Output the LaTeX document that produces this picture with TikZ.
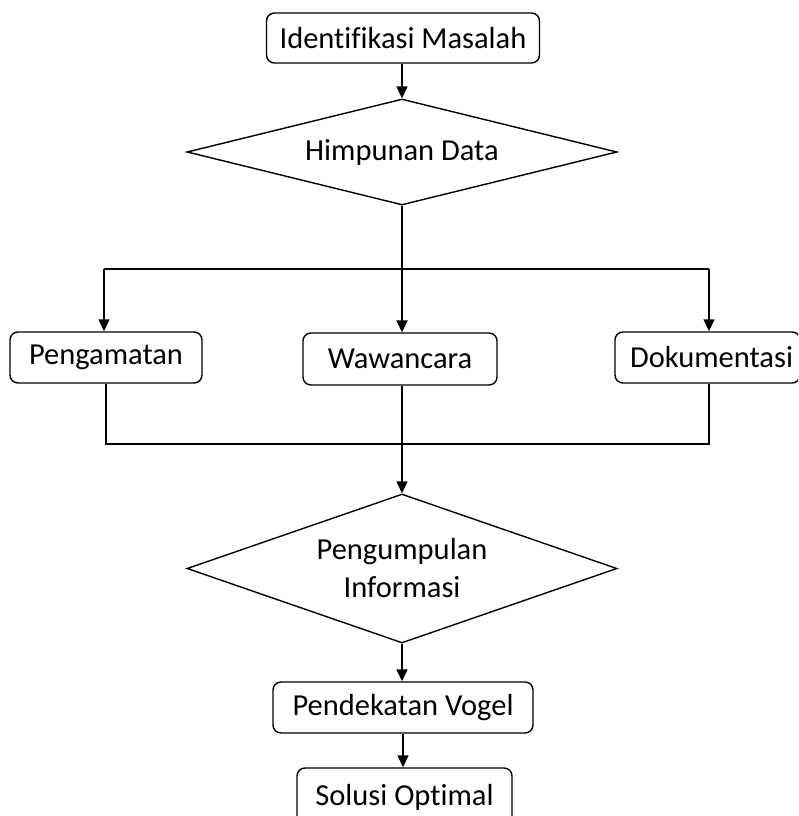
\documentclass[tikz,border=0pt]{standalone}
\usepackage{fontspec}
\setmainfont[Ligatures={NoCommon}]{Carlito}
\usetikzlibrary{shapes.geometric,arrows.meta}
\tikzset{
  box/.style={draw, line width=1.4pt, rounded corners=8pt, inner sep=0pt, align=center},
  dia/.style={draw, diamond, line width=1.4pt, inner sep=0pt, align=center},
  conn/.style={line width=1.4pt},
  arr/.style={line width=1.4pt, -{Triangle[length=12pt,width=11pt]}},
}
\begin{document}
\begin{tikzpicture}[x=1pt,y=-1pt,font=\fontsize{30.5}{38}\selectfont]
\clip (0,0) rectangle (798,816);
\fill[white] (0,0) rectangle (798,816);
\node[box, minimum width=273pt, minimum height=50pt] (im) at (403,38) {Identifikasi Masalah};
\node[dia, minimum width=430pt, minimum height=106pt, aspect=4] (hd) at (402,152) {Himpunan Data};
\node[box, minimum width=192pt, minimum height=51pt] (pg) at (106,357.5) {Pengamatan};
\node[box, minimum width=194pt, minimum height=52pt] (ww) at (400,359) {\raisebox{-5pt}{Wawancara}};
\node[box, minimum width=185pt, minimum height=51pt] (dk) at (707.5,357.5) {\hspace{8pt}Dokumentasi};
\node[dia, minimum width=430pt, minimum height=149pt, aspect=2.9] (pi) at (402,568.5) {Pengumpulan\\Informasi};
\node[box, minimum width=260pt, minimum height=51pt] (pv) at (403,707.5) {Pendekatan Vogel};
\node[box, minimum width=215pt, minimum height=58pt] (so) at (404.5,797) {Solusi Optimal};
\coordinate (tl) at (104,269);
\coordinate (tr) at (709,269);
\coordinate (bl) at (106,444);
\coordinate (br) at (709,444);
\draw[arr] (im.south -| hd.north) -- (hd.north);
\draw[arr, line width=2pt] (hd.south) -- (hd.south |- ww.north);
\draw[conn] (tl) -- (tr);
\draw[arr] (tl) -- (tl |- pg.north);
\draw[arr] (tr) -- (tr |- dk.north);
\draw[conn] (bl |- pg.south) -- (bl) -- (br) -- (br |- dk.south);
\draw[arr] (pi.north |- ww.south) -- (pi.north);
\draw[arr] (pi.south) -- (pi.south |- pv.north);
\draw[arr] (pv.south) -- (pv.south |- so.north);
\end{tikzpicture}
\end{document}
